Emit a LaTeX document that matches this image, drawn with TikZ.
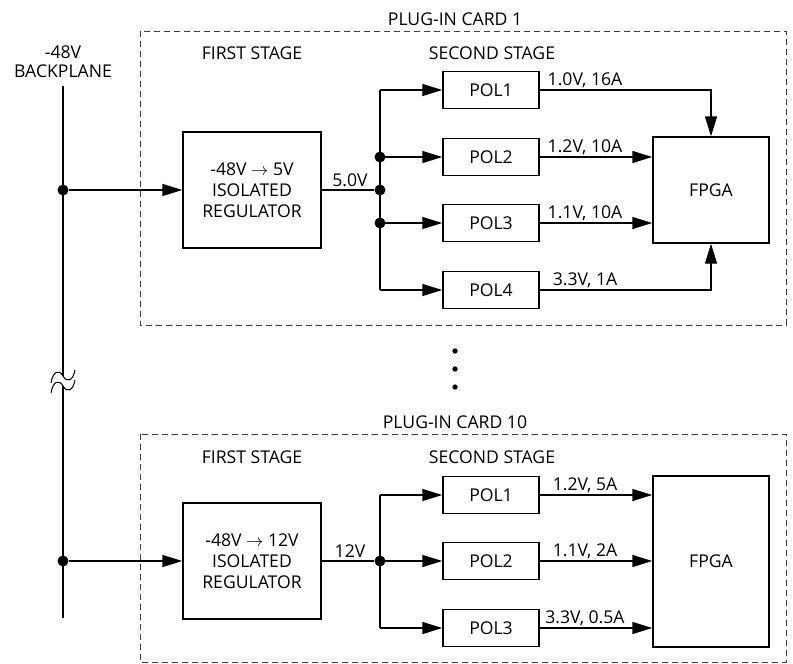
\documentclass[tikz,border=0pt]{standalone}
\usepackage{fontspec}
\setmainfont{Open Sans}
\usetikzlibrary{arrows.meta}

\tikzset{
  wire/.style={line width=1.4pt},
  feed/.style={wire,-{Triangle[length=20pt,width=12pt]}},
  blk/.style={draw,line width=1.4pt,inner sep=0pt,align=center},
  pol/.style={blk,minimum width=96pt,minimum height=37pt},
  card/.style={draw=black!75,line width=0.9pt,dash pattern=on 6pt off 4pt},
  junc/.style={circle,fill,inner sep=0pt,minimum size=11pt},
}

\begin{document}
\begin{tikzpicture}[x=1pt,y=-1pt,font=\fontsize{17.6}{21}\selectfont]
  \useasboundingbox (0,0) rectangle (793,664);

  % backplane
  \node[align=center] (bp) at (63,62) {-48V\\[-2pt]BACKPLANE};
  \coordinate (bptop) at (63,86);
  \coordinate (bpbot) at (63,618);
  \draw[wire] (bptop) -- (bpbot);
  % break in the backplane
  \fill[white] (51,383) .. controls (53,371) and (59,369) .. (63,376) .. controls (67,383) and (73,381) .. (75,370)
    -- (75,380) .. controls (73,391) and (67,393) .. (63,386) .. controls (59,379) and (53,381) .. (51,393) -- cycle;
  \draw[line width=1pt] (51,383) .. controls (53,371) and (59,369) .. (63,376) .. controls (67,383) and (73,381) .. (75,370);
  \draw[line width=1pt] (51,393) .. controls (53,381) and (59,379) .. (63,386) .. controls (67,393) and (73,391) .. (75,380);

  % card 1
  \draw[card] (140,31) rectangle (786,325);
  \node (card1) at (455,19) {PLUG-IN CARD 1};
  \node (first1) at (252,53) {FIRST STAGE};
  \node (second1) at (492,53) {SECOND STAGE};
  \node[blk,minimum width=138pt,minimum height=116pt] (reg1) at (252,190) {-48V $\rightarrow$ 5V\\ISOLATED\\REGULATOR};
  \node[blk,minimum width=116pt,minimum height=106pt] (fpga1) at (711,190) {FPGA};
  \node[junc] (j1) at (63,190) {};
  \node[junc] (bus1) at (380,190) {};
  \draw[feed] (j1) -- (reg1);
  \draw[wire] (reg1) -- (bus1);
  \node[anchor=base] (v1) at (350,186) {5.0V};
  \foreach \i/\y/\v in {1/90/{1.0V, 16A},2/157/{1.2V, 10A},3/223/{1.1V, 10A},4/290/{3.3V, 1A}}{
    \node[pol] (c1pol\i) at (491,\y) {POL\i};
    \coordinate (c1tap\i) at (380,\y);
    \draw[feed] (c1tap\i) -- (c1pol\i);
    \node[anchor=base] (c1out\i) at (585,\y-5) {\v};
  }
  \draw[wire] (c1tap1) -- (c1tap4);
  \node[junc] (c1dot2) at (c1tap2) {};
  \node[junc] (c1dot3) at (c1tap3) {};
  \draw[feed] (c1pol1) -| (fpga1);
  \draw[feed] (c1pol2) -- (c1pol2 -| fpga1.west);
  \draw[feed] (c1pol3) -- (c1pol3 -| fpga1.west);
  \draw[feed] (c1pol4) -| (fpga1);

  % more cards
  \foreach \y in {351,369,387}
    \fill (455,\y) circle (2.7pt);

  % card 10
  \draw[card] (140,434) rectangle (786,662);
  \node (card10) at (455,422) {PLUG-IN CARD 10};
  \node (first10) at (252,457) {FIRST STAGE};
  \node (second10) at (492,457) {SECOND STAGE};
  \node[blk,minimum width=138pt,minimum height=116pt] (reg10) at (252,561) {-48V $\rightarrow$ 12V\\ISOLATED\\REGULATOR};
  \node[blk,minimum width=116pt,minimum height=171pt] (fpga10) at (711,561.5) {FPGA};
  \node[junc] (j10) at (63,561) {};
  \node[junc] (bus10) at (380,561) {};
  \draw[feed] (j10) -- (reg10);
  \draw[wire] (reg10) -- (bus10);
  \node[anchor=base] (v10) at (350,557) {12V};
  \foreach \i/\y/\v in {1/495/{1.2V, 5A},2/561/{1.1V, 2A},3/628/{3.3V, 0.5A}}{
    \node[pol] (c10pol\i) at (491,\y) {POL\i};
    \coordinate (c10tap\i) at (380,\y);
    \draw[feed] (c10tap\i) -- (c10pol\i);
    \node[anchor=base] (c10out\i) at (585,\y-5) {\v};
    \draw[feed] (c10pol\i) -- (c10pol\i -| fpga10.west);
  }
  \draw[wire] (c10tap1) -- (c10tap3);
\end{tikzpicture}
\end{document}
